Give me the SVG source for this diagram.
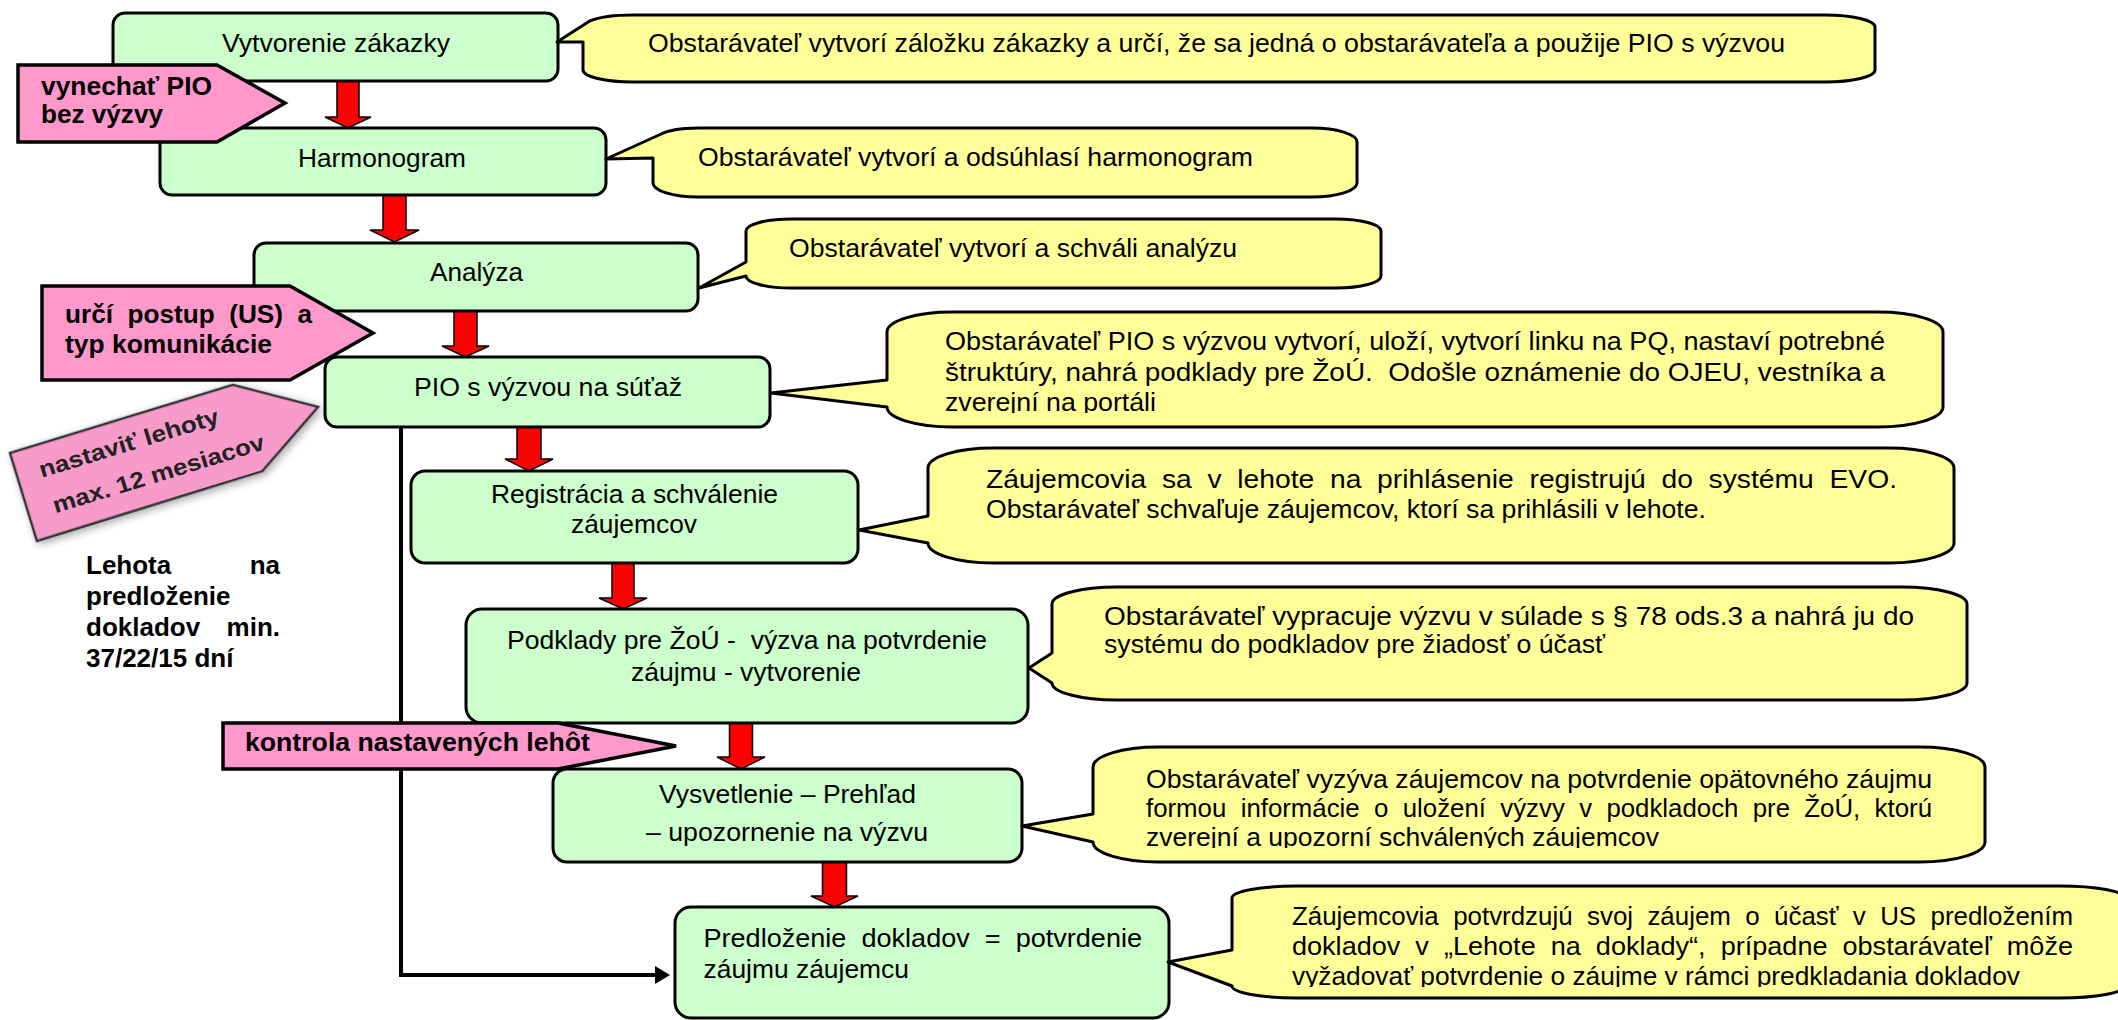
<svg xmlns="http://www.w3.org/2000/svg" width="2118" height="1020" viewBox="0 0 2118 1020">
<style>
.box{fill:#CCFFCC;stroke:#000;stroke-width:3}
.call{fill:#FFFF99;stroke:#000;stroke-width:3;stroke-linejoin:round}
.pink{fill:#FF99CC;stroke:#000;stroke-width:3.5}
.red{fill:#FF0000;stroke:#000;stroke-width:1.5}
.t{font-family:"Liberation Sans",Arial,sans-serif;font-size:26px;fill:#000}
.b{font-weight:bold}
.pre{white-space:pre}
</style>
<defs>
<clipPath id="c4"><rect x="880" y="300" width="1070" height="113"/></clipPath>
<clipPath id="c7"><rect x="1090" y="740" width="900" height="108"/></clipPath>
<clipPath id="c8"><rect x="1230" y="880" width="900" height="107"/></clipPath>
<filter id="soft" x="-20%" y="-20%" width="140%" height="140%">
<feGaussianBlur in="SourceAlpha" stdDeviation="4"/>
<feOffset dx="2" dy="3"/>
<feComponentTransfer><feFuncA type="linear" slope="0.35"/></feComponentTransfer>
<feMerge><feMergeNode/><feMergeNode in="SourceGraphic"/></feMerge>
</filter>
</defs>
<rect width="2118" height="1020" fill="#fff"/>

<g id="connectors">
<path d="M401,427 L401,975 L657,975" fill="none" stroke="#000" stroke-width="4"/>
<polygon points="655,966 670,975 655,984" fill="#000"/>
<path class="red" d="M337,81 L359,81 L359,117 L371,117 L348,128 L325,117 L337,117 Z"/>
<path class="red" d="M383,195 L406,195 L406,230 L419,230 L394.5,242 L370,230 L383,230 Z"/>
<path class="red" d="M454,311 L477,311 L477,346 L489,346 L465.5,357 L442,346 L454,346 Z"/>
<path class="red" d="M517,427 L541,427 L541,459 L553,459 L529,471 L505,459 L517,459 Z"/>
<path class="red" d="M612,563 L634,563 L634,598 L647,598 L623,609 L599,598 L612,598 Z"/>
<path class="red" d="M729.5,723 L752.5,723 L752.5,757 L765,757 L741,769 L717,757 L729.5,757 Z"/>
<path class="red" d="M822.5,862 L846.5,862 L846.5,896 L858,896 L834.5,907 L811,896 L822.5,896 Z"/>
</g>

<g id="n1">
<rect class="box" x="113" y="13" width="445" height="68" rx="12"/>
<text class="t" x="222" y="52" textLength="228" lengthAdjust="spacingAndGlyphs">Vytvorenie zákazky</text>
</g>
<g id="n2">
<rect class="box" x="160" y="128" width="446" height="67" rx="12"/>
<text class="t" x="298" y="167" textLength="168" lengthAdjust="spacingAndGlyphs">Harmonogram</text>
</g>
<g id="n3">
<rect class="box" x="254" y="243" width="444" height="68" rx="12"/>
<text class="t" x="430" y="281" textLength="93" lengthAdjust="spacingAndGlyphs">Analýza</text>
</g>
<g id="n4">
<rect class="box" x="325" y="357" width="445" height="70" rx="12"/>
<text class="t" x="414" y="396" textLength="268" lengthAdjust="spacingAndGlyphs">PIO s výzvou na súťaž</text>
</g>
<g id="n5">
<rect class="box" x="411" y="471" width="447" height="92" rx="14"/>
<text class="t" x="491" y="503" textLength="287" lengthAdjust="spacingAndGlyphs">Registrácia a schválenie</text>
<text class="t" x="571" y="533" textLength="126" lengthAdjust="spacingAndGlyphs">záujemcov</text>
</g>
<g id="n6">
<rect class="box" x="466" y="609" width="562" height="114" rx="16"/>
<text class="t pre" x="507" y="649" textLength="480" lengthAdjust="spacingAndGlyphs">Podklady pre ŽoÚ -  výzva na potvrdenie</text>
<text class="t" x="631" y="681" textLength="230" lengthAdjust="spacingAndGlyphs">záujmu - vytvorenie</text>
</g>
<g id="n7">
<rect class="box" x="553" y="769" width="469" height="93" rx="14"/>
<text class="t" x="659" y="803" textLength="257" lengthAdjust="spacingAndGlyphs">Vysvetlenie – Prehľad</text>
<text class="t" x="646" y="841" textLength="282" lengthAdjust="spacingAndGlyphs">– upozornenie na výzvu</text>
</g>
<g id="n8">
<rect class="box" x="675" y="907" width="494" height="111" rx="16"/>
<text class="t pre" x="703.5" y="947" textLength="438.5" lengthAdjust="spacingAndGlyphs">Predloženie  dokladov  =  potvrdenie</text>
<text class="t" x="703.5" y="978" textLength="205.5" lengthAdjust="spacingAndGlyphs">záujmu záujemcu</text>
</g>

<g id="c1n">
<path class="call" d="M583,42 L557,42 L589.7,21 A50,12 0 0 1 633,15 L1825,15 A50,12 0 0 1 1875,27 L1875,70 A50,12 0 0 1 1825,82 L633,82 A50,12 0 0 1 583,70 Z"/>
<text class="t" x="648" y="52" textLength="1137" lengthAdjust="spacingAndGlyphs">Obstarávateľ vytvorí záložku zákazky a určí, že sa jedná o obstarávateľa a použije PIO s výzvou</text>
</g>
<g id="c2n">
<path class="call" d="M653,158 L606,159 L659,135 A45,14 0 0 1 698,128 L1312,128 A45,14 0 0 1 1357,142 L1357,183 A45,14 0 0 1 1312,197 L698,197 A45,14 0 0 1 653,183 Z"/>
<text class="t" x="698" y="166" textLength="555" lengthAdjust="spacingAndGlyphs">Obstarávateľ vytvorí a odsúhlasí harmonogram</text>
</g>
<g id="c3n">
<path class="call" d="M746,276 L699,288 L746,262 L746,231 A45,12 0 0 1 791,219 L1336,219 A45,12 0 0 1 1381,231 L1381,276 A45,12 0 0 1 1336,288 L791,288 A45,12 0 0 1 746,276 Z"/>
<text class="t" x="789" y="257" textLength="448" lengthAdjust="spacingAndGlyphs">Obstarávateľ vytvorí a schváli analýzu</text>
</g>
<g id="c4n">
<path class="call" d="M887,407 L771,393 L887,380 L887,332 A65,20 0 0 1 952,312 L1878,312 A65,20 0 0 1 1943,332 L1943,407 A65,20 0 0 1 1878,427 L952,427 A65,20 0 0 1 887,407 Z"/>
<g clip-path="url(#c4)">
<text class="t" x="945" y="350" textLength="940" lengthAdjust="spacingAndGlyphs">Obstarávateľ PIO s výzvou vytvorí, uloží, vytvorí linku na PQ, nastaví potrebné</text>
<text class="t pre" x="945" y="381" textLength="940" lengthAdjust="spacingAndGlyphs">štruktúry, nahrá podklady pre ŽoÚ.  Odošle oznámenie do OJEU, vestníka a</text>
<text class="t" x="945" y="411" textLength="211" lengthAdjust="spacingAndGlyphs">zverejní na portáli</text>
</g>
</g>
<g id="c5n">
<path class="call" d="M928,543 L859,530 L928,516 L928,468 A65,20 0 0 1 993,448 L1889,448 A65,20 0 0 1 1954,468 L1954,543 A65,20 0 0 1 1889,563 L993,563 A65,20 0 0 1 928,543 Z"/>
<text class="t pre" x="986" y="488" textLength="911" lengthAdjust="spacingAndGlyphs">Záujemcovia  sa  v  lehote  na  prihlásenie  registrujú  do  systému  EVO.</text>
<text class="t" x="986" y="518" textLength="720" lengthAdjust="spacingAndGlyphs">Obstarávateľ schvaľuje záujemcov, ktorí sa prihlásili v lehote.</text>
</g>
<g id="c6n">
<path class="call" d="M1052,683 L1029,668 L1052,653 L1052,604 A65,17 0 0 1 1117,587 L1902,587 A65,17 0 0 1 1967,604 L1967,683 A65,17 0 0 1 1902,700 L1117,700 A65,17 0 0 1 1052,683 Z"/>
<text class="t" x="1104" y="625" textLength="810" lengthAdjust="spacingAndGlyphs">Obstarávateľ vypracuje výzvu v súlade s § 78 ods.3 a nahrá ju do</text>
<text class="t" x="1104" y="653" textLength="501" lengthAdjust="spacingAndGlyphs">systému do podkladov pre žiadosť o účasť</text>
</g>
<g id="c7n">
<path class="call" d="M1093,842 L1022,826 L1093,814 L1093,767 A65,20 0 0 1 1158,747 L1920,747 A65,20 0 0 1 1985,767 L1985,842 A65,20 0 0 1 1920,862 L1158,862 A65,20 0 0 1 1093,842 Z"/>
<g clip-path="url(#c7)">
<text class="t" x="1146" y="788" textLength="786" lengthAdjust="spacingAndGlyphs">Obstarávateľ vyzýva záujemcov na potvrdenie opätovného záujmu</text>
<text class="t pre" x="1146" y="817" textLength="786" lengthAdjust="spacingAndGlyphs">formou  informácie  o  uložení  výzvy  v  podkladoch  pre  ŽoÚ,  ktorú</text>
<text class="t" x="1146" y="846" textLength="513" lengthAdjust="spacingAndGlyphs">zverejní a upozorní schválených záujemcov</text>
</g>
</g>
<g id="c8n">
<path class="call" d="M1232,986 L1168,962 L1232,950 L1232,898 A65,12 0 0 1 1297,886 L2060,886 A65,12 0 0 1 2125,898 L2125,986 A65,12 0 0 1 2060,998 L1297,998 A65,12 0 0 1 1232,986 Z"/>
<g clip-path="url(#c8)">
<text class="t pre" x="1292" y="925" textLength="781" lengthAdjust="spacingAndGlyphs">Záujemcovia  potvrdzujú  svoj  záujem  o  účasť  v  US  predložením</text>
<text class="t pre" x="1292" y="955" textLength="781" lengthAdjust="spacingAndGlyphs">dokladov  v  „Lehote  na  doklady“,  prípadne  obstarávateľ  môže</text>
<text class="t" x="1292" y="985" textLength="728" lengthAdjust="spacingAndGlyphs">vyžadovať potvrdenie o záujme v rámci predkladania dokladov</text>
</g>
</g>

<g id="p1">
<polygon class="pink" points="18,65 217,65 285,103 217,142 18,142"/>
<text class="t b" x="41" y="95" textLength="171" lengthAdjust="spacingAndGlyphs">vynechať PIO</text>
<text class="t b" x="41" y="123" textLength="122" lengthAdjust="spacingAndGlyphs">bez výzvy</text>
</g>
<g id="p2">
<polygon class="pink" points="42,286 290,286 373,333 290,380 42,380"/>
<text class="t b pre" x="65" y="323" textLength="247" lengthAdjust="spacingAndGlyphs">určí  postup  (US)  a</text>
<text class="t b" x="65" y="353" textLength="207" lengthAdjust="spacingAndGlyphs">typ komunikácie</text>
</g>
<g id="p3">
<polygon class="pink" points="223,723 558,723 676,746 558,769 223,769"/>
<text class="t b" x="245" y="751" textLength="345" lengthAdjust="spacingAndGlyphs">kontrola nastavených lehôt</text>
</g>
<g id="p4" transform="translate(10,453) rotate(-17)">
<polygon points="0,0 233,0 308,46 236,91 0,92" fill="#F79BCB" stroke="#333" stroke-width="2.5" filter="url(#soft)"/>
<text class="t b" x="23" y="33" font-size="23" fill="#222" style="font-size:23px;fill:#222" textLength="187" lengthAdjust="spacingAndGlyphs">nastaviť lehoty</text>
<text class="t b" x="26" y="71" style="font-size:23px;fill:#222" textLength="220" lengthAdjust="spacingAndGlyphs">max. 12 mesiacov</text>
</g>
<g id="note">
<text class="t b" x="86" y="574">Lehota</text>
<text class="t b" x="280" y="574" text-anchor="end">na</text>
<text class="t b" x="86" y="605">predloženie</text>
<text class="t b" x="86" y="636">dokladov</text>
<text class="t b" x="280" y="636" text-anchor="end">min.</text>
<text class="t b" x="86" y="667">37/22/15 dní</text>
</g>
</svg>
